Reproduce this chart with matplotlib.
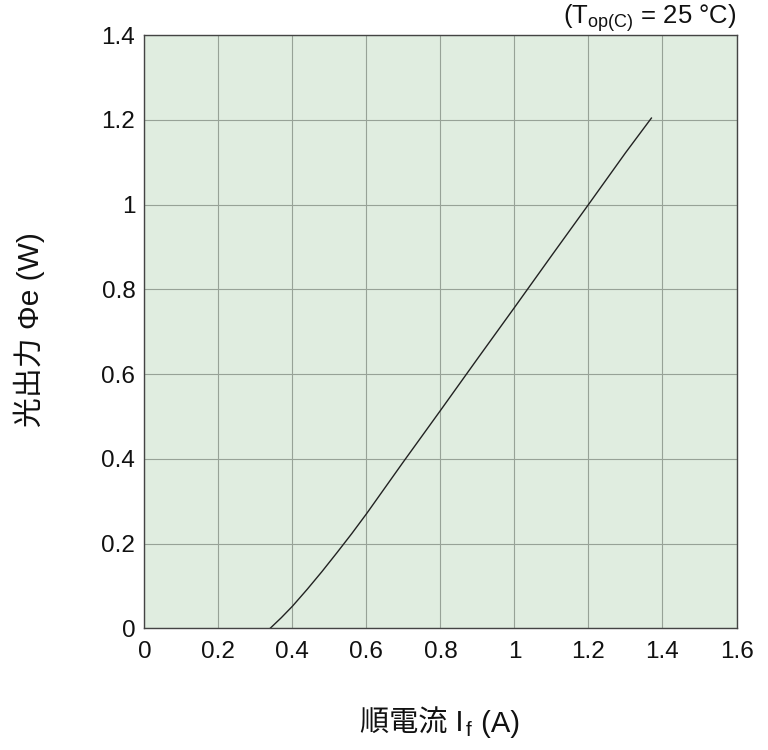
import matplotlib
matplotlib.use('Agg')
import matplotlib.pyplot as plt

plt.rcParams['font.family'] = ['Liberation Sans', 'Noto Sans CJK JP', 'DejaVu Sans']
plt.rcParams['mathtext.fontset'] = 'custom'
plt.rcParams['mathtext.rm'] = 'Liberation Sans'

# 順電流 If (A) vs 光出力 Φe (W)
current = [0.34, 0.37, 0.40, 0.44, 0.48, 0.52, 0.56, 0.60, 0.70, 0.80, 0.90, 1.00, 1.10, 1.20, 1.30, 1.37]
power = [0.0, 0.025, 0.052, 0.092, 0.134, 0.178, 0.223, 0.270, 0.393, 0.514, 0.636, 0.757, 0.879, 1.00, 1.122, 1.204]

x_ticks = [0, 0.2, 0.4, 0.6, 0.8, 1, 1.2, 1.4, 1.6]
x_labels = ['0', '0.2', '0.4', '0.6', '0.8', '1', '1.2', '1.4', '1.6']
y_ticks = [0, 0.2, 0.4, 0.6, 0.8, 1, 1.2, 1.4]
y_labels = ['0', '0.2', '0.4', '0.6', '0.8', '1', '1.2', '1.4']

fig = plt.figure(figsize=(7.68, 7.5), dpi=100)
ax = fig.add_axes([0.188, 0.1623, 0.771, 0.791])
ax.set_facecolor('#e0ede0')

ax.plot(current, power, color='#222222', lw=1.0)

ax.set_xlim(0, 1.6)
ax.set_ylim(0, 1.4)
ax.set_xticks(x_ticks)
ax.set_xticklabels(x_labels)
ax.set_yticks(y_ticks)
ax.set_yticklabels(y_labels)
ax.tick_params(length=0, labelsize=17.5, colors='#111111')
ax.tick_params(axis='x', pad=9)
ax.tick_params(axis='y', pad=6.5)
ax.grid(True, color='#97a297', lw=0.8)
ax.set_axisbelow(True)
for s in ax.spines.values():
    s.set_color('#444444')
    s.set_linewidth(1.0)

# x軸ラベル（添字 f は小さく）
t1 = fig.text(0.469, 0.024, '順電流 I', fontsize=21, va='baseline', color='#111111')
t2 = ax.annotate('f', xy=(1, 0), xycoords=t1, xytext=(1.5, -1.5), textcoords='offset points',
                 fontsize=15, va='bottom', ha='left', color='#111111', annotation_clip=False)
t3 = ax.annotate(' (A)', xy=(1, 0), xycoords=(t2, t1), xytext=(1, 0), textcoords='offset points',
                 va='bottom', ha='left', fontsize=21, color='#111111', annotation_clip=False)

fig.text(0.038, 0.56, '光出力 Φe (W)', fontsize=21.5, ha='center', va='center',
         rotation=90, color='#111111')
fig.text(0.959, 0.976, '(T$_\\mathrm{op(C)}$ = 25 °C)', fontsize=18.5, ha='right', va='center',
         color='#111111')

fig.savefig('out.png', dpi=100)
